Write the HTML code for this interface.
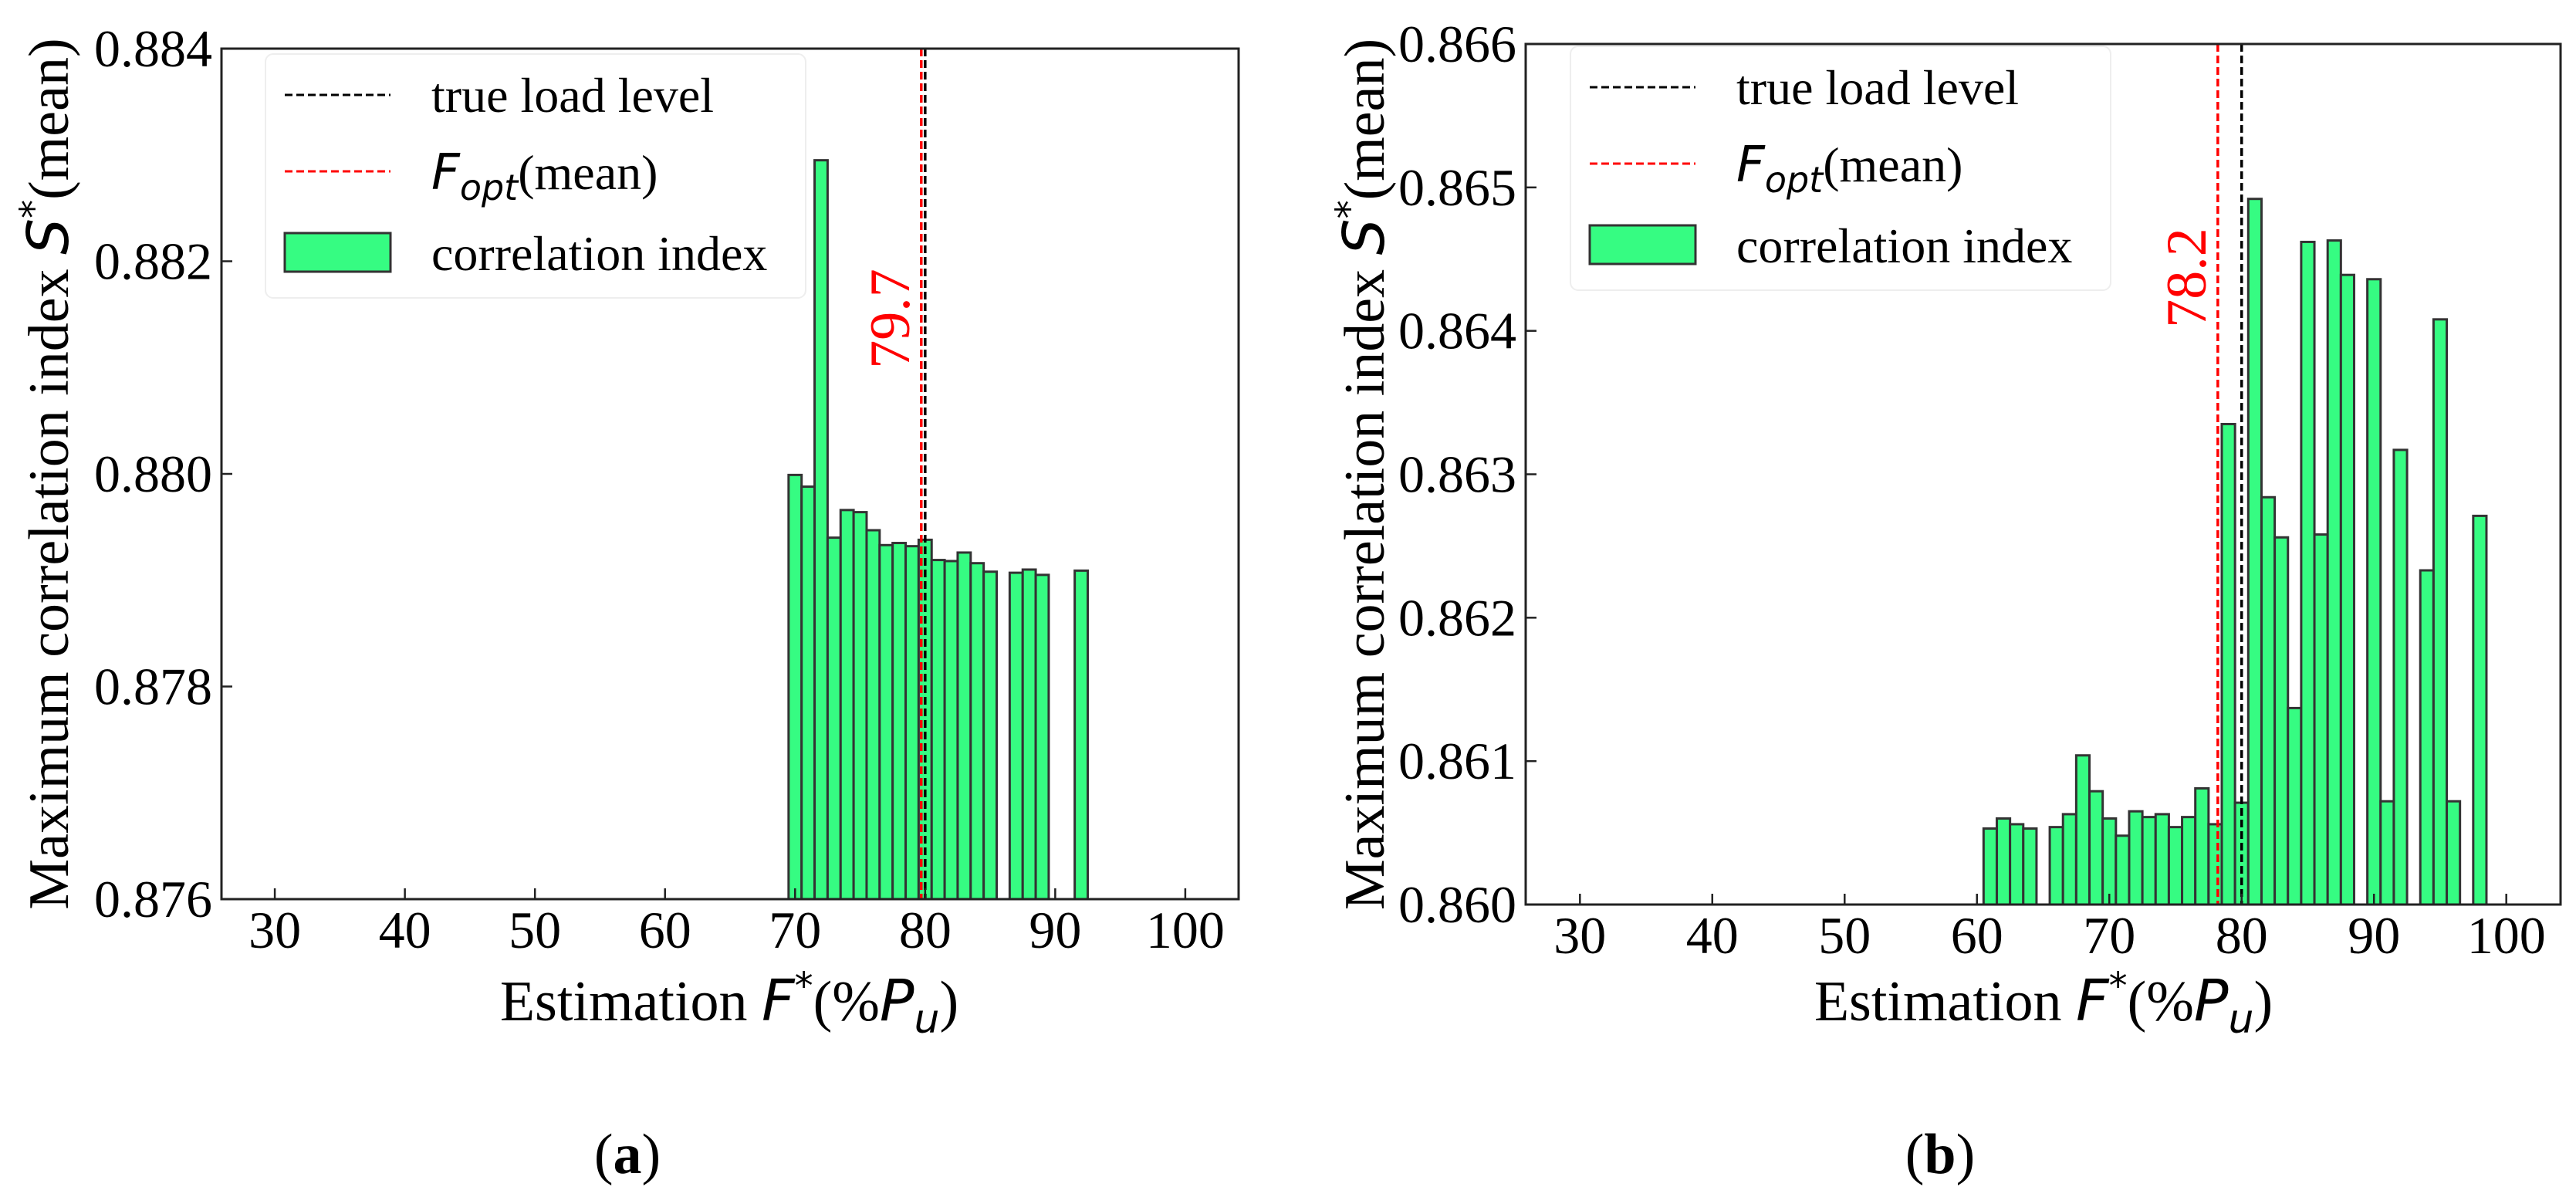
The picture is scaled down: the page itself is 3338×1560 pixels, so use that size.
<!DOCTYPE html>
<html><head><meta charset="utf-8"><style>
html,body{margin:0;padding:0;background:#fff;}
svg{display:block;}
.tick{font-family:"Liberation Serif",serif;font-size:68px;fill:#000;}
.lab{font-family:"Liberation Serif",serif;font-size:74px;fill:#000;}
.leg{font-family:"Liberation Serif",serif;font-size:64px;fill:#000;}
.opt{font-family:"Liberation Serif",serif;font-size:74px;fill:#ff0000;}
.m{font-family:"DejaVu Sans",sans-serif;font-style:italic;}
</style></head><body>
<svg id="fig" width="3338" height="1560" viewBox="0 0 3338 1560" xmlns="http://www.w3.org/2000/svg"></svg>
<script>
// ---- data: panel (a)
const catsA = [70,71,72,73,74,75,76,77,78,79,80,81,82,83,84,85,87,88,89,92];
const valsA = [0.87999,0.87988,0.88295,0.87940,0.87966,0.87964,0.87947,0.87933,0.87935,0.87932,0.87938,0.87919,0.87918,0.87926,0.87916,0.87908,0.87907,0.87910,0.87905,0.87909];
const yTicksA = [0.876,0.878,0.880,0.882,0.884];
const yTickLabelsA = ["0.876","0.878","0.880","0.882","0.884"];
const trueA = 80;
const optA = 79.7;
const optLabelA = "79.7";
// ---- data: panel (b)
const catsB = [61,62,63,64,66,67,68,69,70,71,72,73,74,75,76,77,78,79,80,81,82,83,84,85,86,87,88,90,91,92,94,95,96,98];
const valsB = [0.86053,0.86060,0.86056,0.86053,0.86054,0.86063,0.86104,0.86079,0.86060,0.86048,0.86065,0.86061,0.86063,0.86054,0.86061,0.86081,0.86056,0.86335,0.86071,0.86492,0.86284,0.86256,0.86137,0.86462,0.86258,0.86463,0.86439,0.86436,0.86072,0.86317,0.86233,0.86408,0.86072,0.86271];
const yTicksB = [0.860,0.861,0.862,0.863,0.864,0.865,0.866];
const yTickLabelsB = ["0.860","0.861","0.862","0.863","0.864","0.865","0.866"];
const trueB = 80;
const optB = 78.2;
const optLabelB = "78.2";
const xTicks = [30,40,50,60,70,80,90,100];
const xTickLabels = ["30","40","50","60","70","80","90","100"];

const NS="http://www.w3.org/2000/svg";
const svg=document.getElementById('fig');
function mk(tag,attrs,parent){const e=document.createElementNS(NS,tag);for(const k in attrs)e.setAttribute(k,attrs[k]);(parent||svg).appendChild(e);return e;}

function panel(cfg){
  const g=mk('g',{});
  
  
  const L=cfg.L,R=cfg.R,T=cfg.T,B=cfg.B;
  const xmin=25.9,xmax=104.1;
  const xs=v=>L+(v-xmin)/(xmax-xmin)*(R-L);
  const ys=v=>B-(v-cfg.ymin)/(cfg.ymax-cfg.ymin)*(B-T);
  cfg.cats.forEach((c,i)=>{
    const x0=xs(c-0.5),x1=xs(c+0.5),y=ys(cfg.vals[i]);
    const r=mk('rect',{x:x0,y:y,width:x1-x0,height:B-y,fill:'#36fc82',stroke:'#333',"stroke-width":3},g);
    
    
  });
  const lt=mk('line',{x1:xs(cfg.tru),x2:xs(cfg.tru),y1:T,y2:B,stroke:'#000',"stroke-width":3.5,"stroke-dasharray":"10,5"},g);
  
  
  const lo=mk('line',{x1:xs(cfg.opt),x2:xs(cfg.opt),y1:T,y2:B,stroke:'#ff0000',"stroke-width":3.5,"stroke-dasharray":"10,5"},g);
  
  
  const ot=mk('text',{x:0,y:0,transform:`translate(${xs(cfg.opt)-16},${cfg.optY}) rotate(-90)`,"text-anchor":"middle",class:'opt'},g);
  ot.textContent=cfg.optLabel;
  
  
  const fr=mk('rect',{x:L,y:T,width:R-L,height:B-T,fill:'none',stroke:'#222',"stroke-width":3},g);
  
  
  xTicks.forEach((t,i)=>{
    const x=xs(t);
    mk('line',{x1:x,x2:x,y1:B,y2:B-14,stroke:'#222',"stroke-width":2.5},g);
    const tx=mk('text',{x:x,y:B+63,"text-anchor":"middle",class:'tick'},g);
    tx.textContent=xTickLabels[i];
    
    
  });
  cfg.yTicks.forEach((t,i)=>{
    const y=ys(t);
    mk('line',{x1:L,x2:L+14,y1:y,y2:y,stroke:'#222',"stroke-width":2.5},g);
    const ty=mk('text',{x:L-12,y:y+23,"text-anchor":"end",class:'tick'},g);
    ty.textContent=cfg.yLabels[i];
    
    
  });
  const xl=mk('text',{x:cfg.xlx,y:1322,"text-anchor":"middle",class:'lab'},g);
  xl.innerHTML='Estimation <tspan class="m">F</tspan><tspan class="m" dy="-28" font-size="48">*</tspan><tspan dy="28">(%</tspan><tspan class="m">P</tspan><tspan class="m" dy="16" font-size="52">u</tspan><tspan dy="-16">)</tspan>';
  
  
  const yl=mk('text',{x:0,y:0,transform:`translate(${cfg.ylx},${(T+B)/2}) rotate(-90)`,"text-anchor":"middle",class:'lab'},g);
  yl.innerHTML='Maximum correlation index <tspan class="m">S</tspan><tspan class="m" dy="-28" font-size="48">*</tspan><tspan dy="28">(mean)</tspan>';
  
  
  const lg=mk('g',{},g);
  
  
  const lx=cfg.legX, ly=cfg.legY;
  mk('rect',{x:lx,y:ly,width:700,height:316,rx:10,fill:'#fff',stroke:'#eee',"stroke-width":2},lg);
  mk('line',{x1:lx+25,x2:lx+162,y1:ly+53,y2:ly+53,stroke:'#000',"stroke-width":3,"stroke-dasharray":"10,5"},lg);
  mk('line',{x1:lx+25,x2:lx+162,y1:ly+152,y2:ly+152,stroke:'#ff0000',"stroke-width":3,"stroke-dasharray":"10,5"},lg);
  mk('rect',{x:lx+25,y:ly+232,width:137,height:50,fill:'#36fc82',stroke:'#333',"stroke-width":3},lg);
  const t1=mk('text',{x:lx+215,y:ly+75,class:'leg'},lg); t1.textContent='true load level';
  
  
  const t2=mk('text',{x:lx+215,y:ly+175,class:'leg'},lg);
  t2.innerHTML='<tspan class="m">F</tspan><tspan class="m" dy="14" font-size="46">opt</tspan><tspan dy="-14">(mean)</tspan>';
  
  
  const t3=mk('text',{x:lx+215,y:ly+280,class:'leg'},lg); t3.textContent='correlation index';
  
  
  const cap=mk('text',{x:cfg.capX,y:1520,"text-anchor":"middle",class:'lab'},g);
  cap.innerHTML='(<tspan font-weight="bold">'+cfg.cap+'</tspan>)';
  
  
}

panel({name:'panel-a',L:287,R:1605,T:63,B:1165,ymin:0.876,ymax:0.884,cats:catsA,vals:valsA,yTicks:yTicksA,yLabels:yTickLabelsA,
  tru:trueA,opt:optA,optLabel:optLabelA,optY:413,xlx:945,ylx:88,legX:344,legY:70,capX:813,cap:'a'});
panel({name:'panel-b',L:1977,R:3318,T:57,B:1172,ymin:0.860,ymax:0.866,cats:catsB,vals:valsB,yTicks:yTicksB,yLabels:yTickLabelsB,
  tru:trueB,opt:optB,optLabel:optLabelB,optY:360,xlx:2648,ylx:1793,legX:2035,legY:60,capX:2514,cap:'b'});
</script>
</body></html>
